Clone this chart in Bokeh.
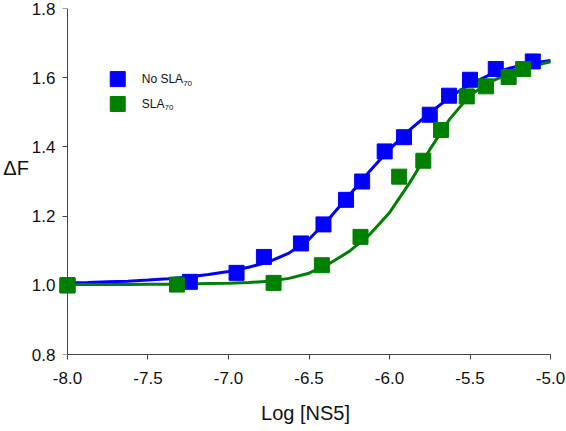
from bokeh.plotting import figure
from bokeh.models import (Range1d, FixedTicker, PrintfTickFormatter, LinearAxis,
                          CustomJSTickFormatter)
from bokeh.core.properties import value
from bokeh.embed import file_html
from bokeh.resources import INLINE

# ---- data ----
no_sla_x = [-8.0, -7.24, -6.95, -6.78, -6.55, -6.41, -6.27, -6.17, -6.03, -5.91, -5.75, -5.63, -5.50, -5.34, -5.11]
no_sla_y = [1.000, 1.010, 1.036, 1.082, 1.121, 1.176, 1.247, 1.300, 1.387, 1.428, 1.493, 1.548, 1.594, 1.625, 1.647]

sla_x = [-8.0, -7.32, -6.72, -6.42, -6.18, -5.94, -5.79, -5.68, -5.52, -5.40, -5.26, -5.17]
sla_y = [1.000, 1.002, 1.007, 1.058, 1.140, 1.314, 1.360, 1.449, 1.546, 1.575, 1.602, 1.625]

fit_x = [-8.0, -7.875, -7.75, -7.625, -7.5, -7.375, -7.25, -7.125, -7.0, -6.875, -6.75, -6.625, -6.5,
         -6.375, -6.25, -6.125, -6.0, -5.875, -5.75, -5.625, -5.5, -5.375, -5.25, -5.125, -5.0]
fit_no_sla = [1.007, 1.008, 1.010, 1.012, 1.015, 1.019, 1.024, 1.031, 1.040, 1.052, 1.068, 1.093, 1.133,
              1.193, 1.260, 1.329, 1.393, 1.449, 1.498, 1.544, 1.581, 1.609, 1.628, 1.641, 1.650]
fit_sla = [1.002, 1.002, 1.002, 1.002, 1.003, 1.003, 1.004, 1.005, 1.006, 1.008, 1.012, 1.020, 1.035,
           1.062, 1.098, 1.146, 1.210, 1.296, 1.392, 1.481, 1.549, 1.588, 1.613, 1.632, 1.646]

x_ticks = [-8.0, -7.5, -7.0, -6.5, -6.0, -5.5, -5.0]
y_ticks = [0.8, 1.0, 1.2, 1.4, 1.6, 1.8]

series_names = ["No SLA", "SLA"]
series_sub = ["70", "70"]
series_colors = ["#0000FF", "#008000"]

FONT = "Liberation Sans"
AXIS_COLOR = "#444444"
TEXT_COLOR = "#111111"

p = figure(width=566, height=431,
           x_range=Range1d(-8.0621, -4.9814), y_range=Range1d(0.8, 1.8),
           output_backend="svg", toolbar_location=None,
           min_border_left=57, min_border_right=13, min_border_top=8, min_border_bottom=77)
p.outline_line_color = None
p.xgrid.grid_line_color = None
p.ygrid.grid_line_color = None
p.background_fill_color = "white"
p.border_fill_color = "white"

# x axis (bottom)
xa = p.xaxis[0]
xa.ticker = FixedTicker(ticks=x_ticks)
xa.formatter = PrintfTickFormatter(format="%.1f")
xa.bounds = (-8.0, -5.0)
xa.axis_line_color = AXIS_COLOR
xa.major_tick_line_color = AXIS_COLOR
xa.major_tick_in = 0
xa.major_tick_out = 5
xa.minor_tick_line_color = None
xa.major_label_text_font = FONT
xa.major_label_text_font_size = "17px"
xa.major_label_text_color = TEXT_COLOR
xa.major_label_standoff = 12
xa.axis_label = "Log [NS5]"
xa.axis_label_text_font = FONT
xa.axis_label_text_font_size = "20px"
xa.axis_label_text_font_style = "normal"
xa.axis_label_text_color = TEXT_COLOR
xa.axis_label_standoff = 15

# y axis tick labels (left panel, no line / ticks)
ya = p.yaxis[0]
ya.ticker = FixedTicker(ticks=y_ticks)
ya.formatter = PrintfTickFormatter(format="%.1f")
ya.axis_line_color = None
ya.major_tick_line_color = None
ya.minor_tick_line_color = None
ya.major_tick_in = 0
ya.major_tick_out = 0
ya.major_label_text_font = FONT
ya.major_label_text_font_size = "17px"
ya.major_label_text_color = TEXT_COLOR
ya.major_label_standoff = 2
ya.axis_label = "ΔF\n"
ya.axis_label_text_font = FONT
ya.axis_label_text_font_size = "20px"
ya.axis_label_text_font_style = "normal"
ya.axis_label_text_color = TEXT_COLOR
ya.axis_label_standoff = 0
try:
    ya.axis_label_orientation = "horizontal"
except Exception:
    pass

# y axis line + ticks at x = -8
yline = LinearAxis(fixed_location=-8.0, ticker=FixedTicker(ticks=y_ticks),
                   formatter=CustomJSTickFormatter(code="return ''"),
                   bounds=(0.8, 1.8), axis_line_color=AXIS_COLOR, major_tick_line_color=AXIS_COLOR,
                   major_tick_in=5, major_tick_out=0, minor_tick_line_color=None,
                   major_label_standoff=0, major_label_text_font_size="1px")
p.add_layout(yline, "right")

# curves
p.line(fit_x, fit_no_sla, line_color=series_colors[0], line_width=3)
p.line(fit_x, fit_sla, line_color=series_colors[1], line_width=3)
# points
p.scatter(no_sla_x, no_sla_y, marker="square", size=15, fill_color=series_colors[0], line_color=series_colors[0])
p.scatter(sla_x, sla_y, marker="square", size=15, fill_color=series_colors[1], line_color=series_colors[1])

# manual legend
leg_x = [-7.688, -7.688]
leg_y = [1.596, 1.524]
p.scatter(leg_x, leg_y, marker="square", size=15, fill_color=series_colors, line_color=series_colors)
p.text(leg_x, leg_y, text=series_names, x_offset=24, text_align="left", text_baseline="middle",
       text_font=value(FONT), text_font_size="12px", text_color=TEXT_COLOR)
p.text(leg_x, leg_y, text=series_sub, x_offset=[24 + 41.4, 24 + 22.7], y_offset=4,
       text_align="left", text_baseline="middle",
       text_font=value(FONT), text_font_size="8px", text_color=TEXT_COLOR)

open("out.html", "w").write(file_html(p, INLINE))
